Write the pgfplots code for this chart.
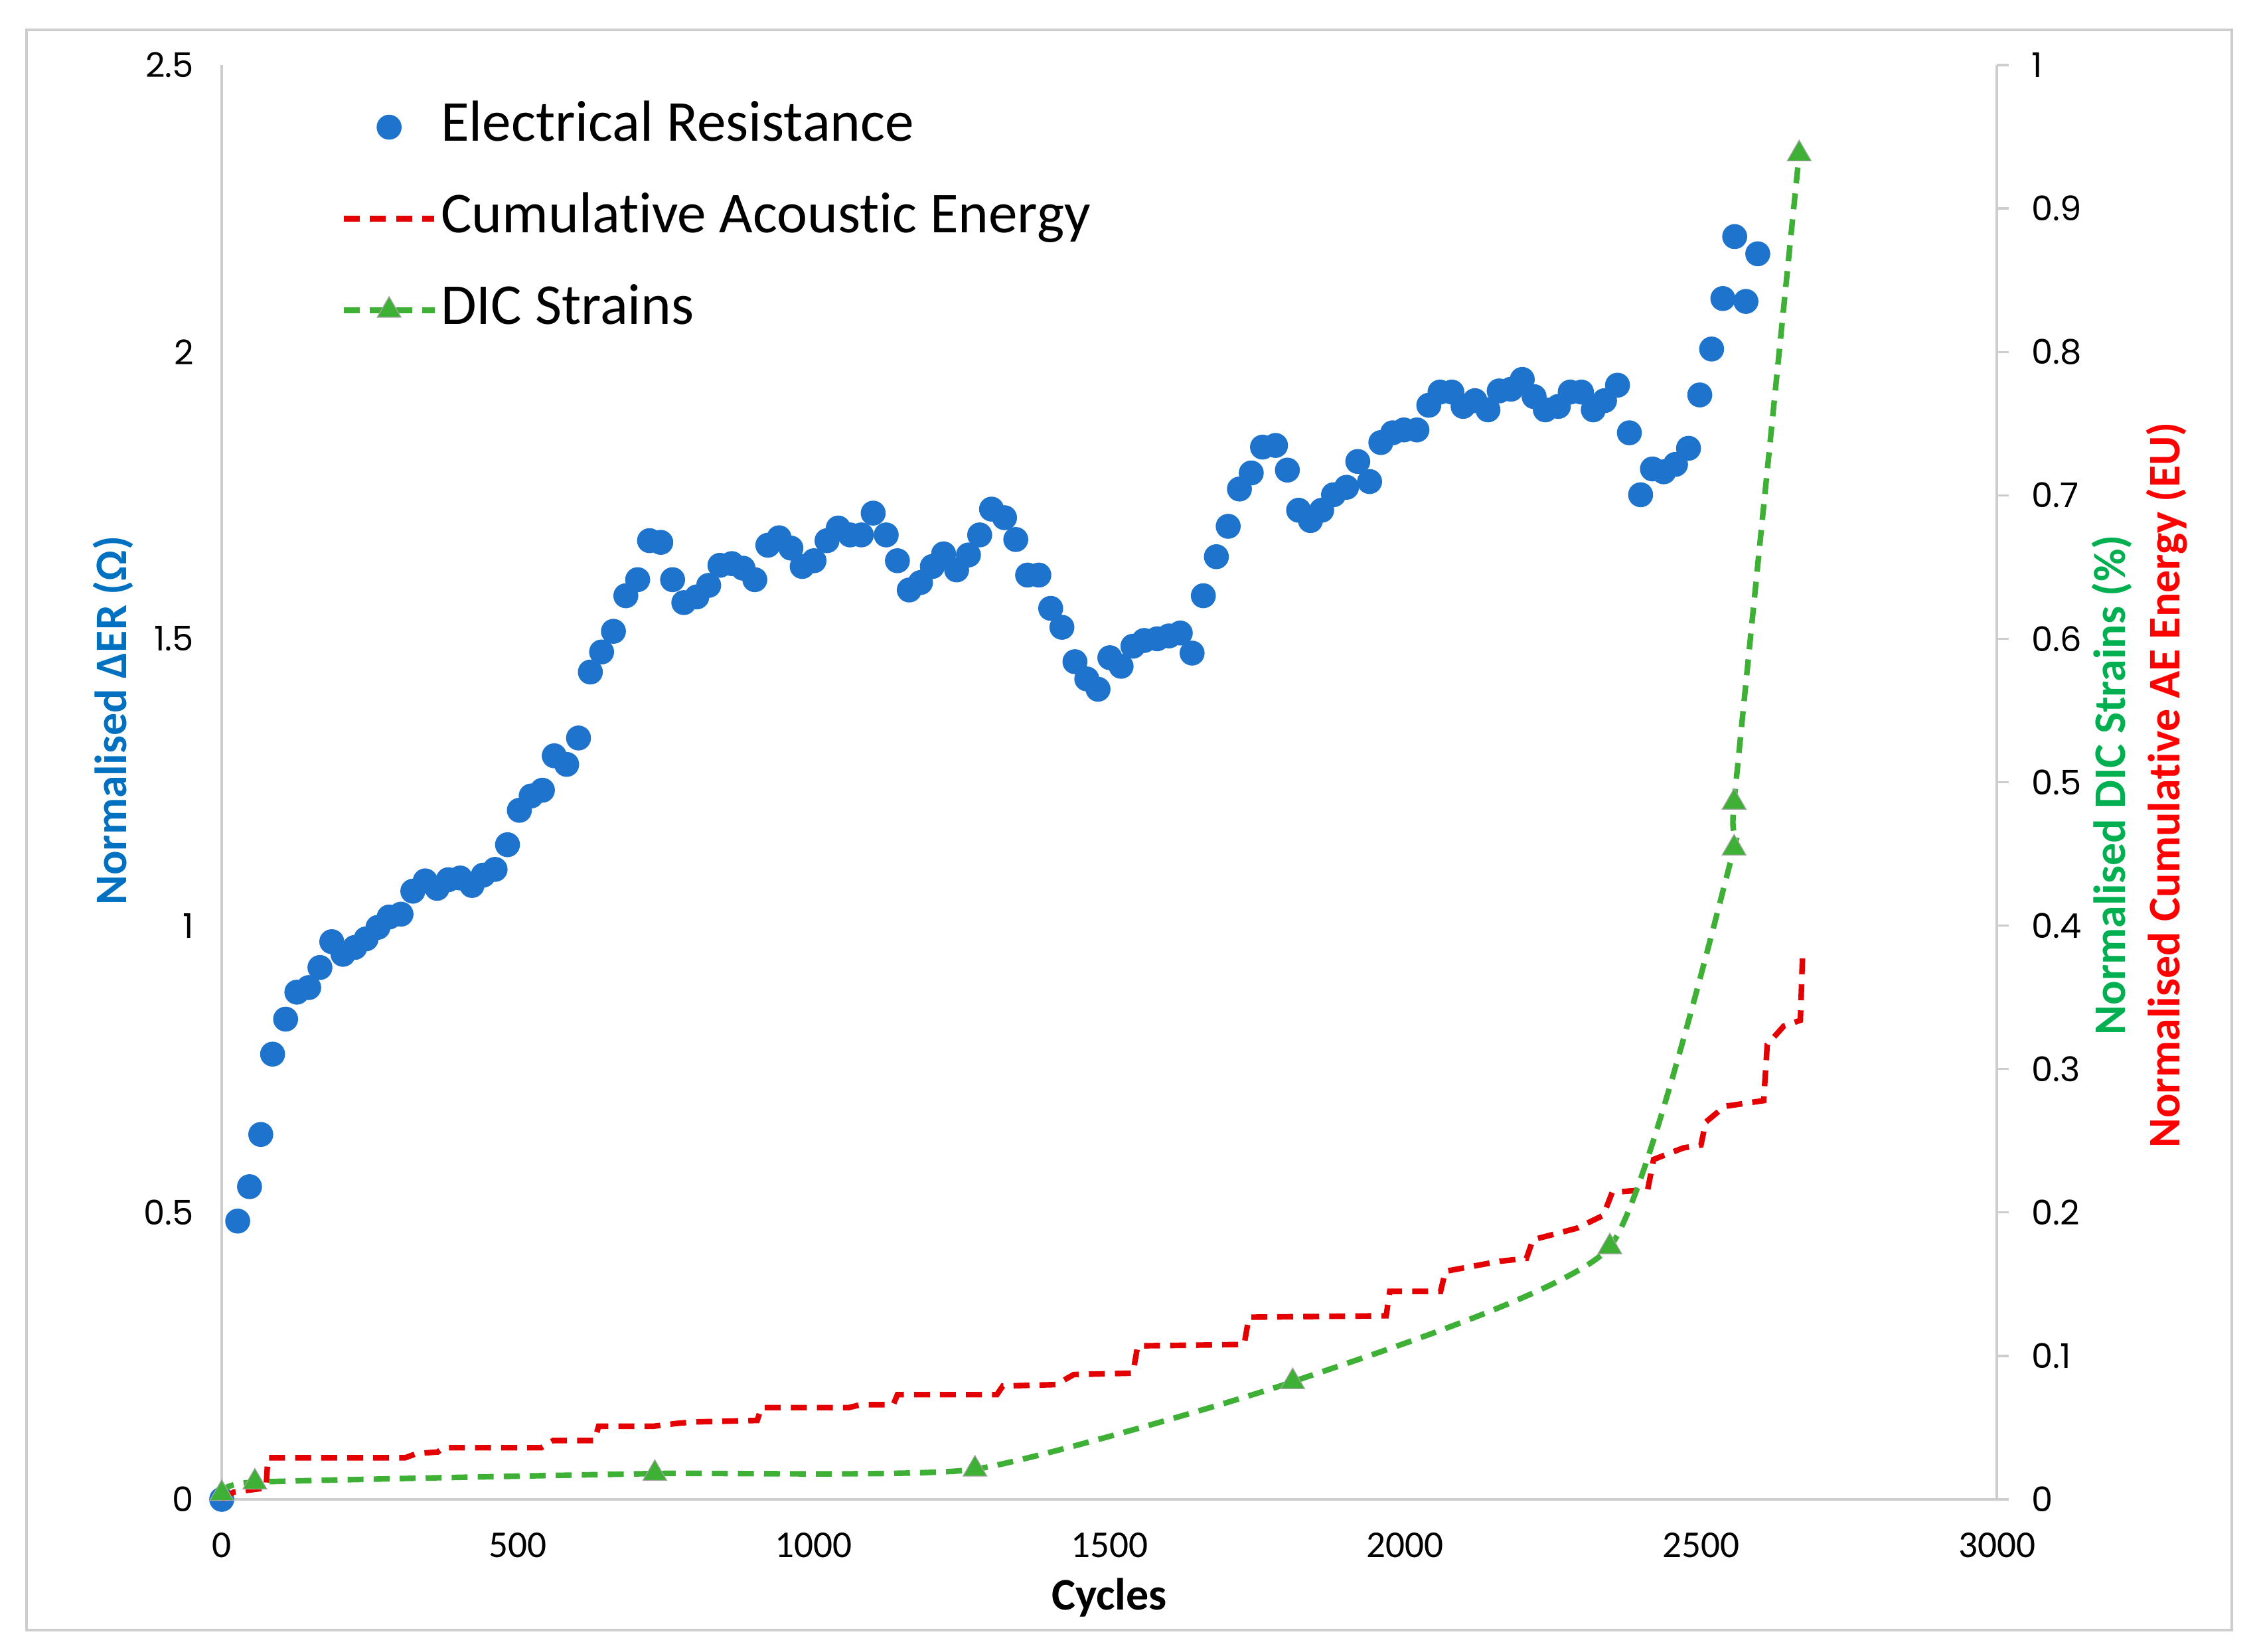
\documentclass[border=0pt]{standalone}
\usepackage{fontspec}
\setmainfont{Carlito}[Ligatures=NoCommon]
\newfontfamily\poppins{Poppins}
\usepackage{pgfplots}
\usepackage{pgfplotstable}
\pgfplotsset{compat=1.18}
\definecolor{erblue}{RGB}{30,115,204}
\definecolor{aered}{RGB}{228,0,0}
\definecolor{dicgreen}{RGB}{62,176,54}
\definecolor{lblblue}{RGB}{0,112,192}
\definecolor{lblgreen}{RGB}{0,176,80}
\definecolor{lblred}{RGB}{255,0,0}
\definecolor{axgray}{RGB}{205,205,205}

\pgfplotstableread{
x y
0 0
27 0.485
47 0.545
66 0.636
86 0.776
108 0.837
127 0.884
147 0.892
166 0.927
186 0.972
205 0.950
225 0.962
244 0.977
264 0.997
283 1.015
303 1.020
323 1.060
344 1.078
364 1.065
383 1.080
403 1.083
423 1.070
442 1.088
462 1.098
483 1.141
503 1.201
523 1.226
542 1.236
562 1.296
583 1.281
603 1.327
623 1.442
642 1.477
662 1.513
683 1.575
703 1.603
723 1.671
742 1.668
762 1.603
781 1.563
803 1.573
823 1.593
842 1.628
862 1.631
881 1.623
901 1.603
923 1.663
942 1.676
962 1.658
981 1.626
1001 1.636
1023 1.671
1042 1.693
1062 1.681
1081 1.681
1101 1.719
1123 1.681
1142 1.636
1162 1.585
1181 1.598
1201 1.626
1220 1.648
1242 1.620
1262 1.646
1281 1.681
1301 1.726
1323 1.711
1342 1.673
1362 1.611
1381 1.611
1401 1.553
1420 1.520
1442 1.460
1462 1.430
1481 1.412
1501 1.467
1520 1.452
1540 1.487
1559 1.497
1581 1.500
1601 1.505
1620 1.510
1640 1.475
1659 1.575
1681 1.643
1701 1.696
1720 1.761
1740 1.789
1759 1.834
1781 1.837
1801 1.794
1820 1.724
1840 1.706
1859 1.724
1879 1.751
1901 1.764
1920 1.809
1940 1.774
1959 1.842
1979 1.859
1998 1.864
2020 1.864
2040 1.907
2059 1.930
2079 1.930
2098 1.905
2118 1.915
2140 1.899
2159 1.932
2179 1.935
2198 1.952
2218 1.922
2237 1.899
2259 1.905
2279 1.930
2298 1.930
2318 1.899
2337 1.915
2359 1.942
2379 1.859
2398 1.751
2418 1.796
2437 1.791
2457 1.804
2479 1.832
2498 1.925
2518 2.005
2537 2.093
2557 2.201
2576 2.088
2596 2.171
}\ertable

\pgfplotstableread{
x y
0 0.000
20 0.005
75 0.008
78 0.029
310 0.029
330 0.032
365 0.033
375 0.036
540 0.036
560 0.041
630 0.041
637 0.051
730 0.051
770 0.053
800 0.054
905 0.055
912 0.064
1060 0.064
1080 0.066
1135 0.066
1142 0.073
1310 0.073
1320 0.079
1410 0.080
1440 0.087
1540 0.088
1548 0.107
1728 0.108
1736 0.127
1968 0.128
1974 0.145
2060 0.145
2068 0.159
2160 0.166
2205 0.168
2216 0.181
2290 0.189
2335 0.198
2350 0.214
2410 0.216
2420 0.237
2470 0.245
2500 0.247
2508 0.263
2540 0.274
2606 0.278
2612 0.317
2640 0.330
2668 0.334
2672 0.383
}\aetable

\pgfplotstableread{
x y
0 0.004
56 0.012
732 0.018
1273 0.021
1810 0.082
2346 0.176
2556 0.454
2556 0.486
2666 0.938
}\dictable

\begin{document}
\begin{tikzpicture}[x=1pt,y=1pt]
\useasboundingbox (-83.5,-57.25) rectangle (768,564.75);
\fill[white] (-83.5,-57.25) rectangle (768,564.75);
\draw[draw=axgray, line width=0.9pt] (-73.5,-49.25) rectangle (757,553.5);

\begin{axis}[
  scale only axis, width=668.5pt, height=540.25pt,
  xmin=0, xmax=3000, ymin=0, ymax=2.5,
  axis x line*=bottom, axis y line*=left,
  axis line style={draw=axgray, line width=0.8pt, -},
  xtick={0,500,1000,1500,2000,2500,3000},
  xticklabels={0,500,1000,1500,2000,2500,3000},
  ytick={0,0.5,1,1.5,2,2.5},
  yticklabels={0,0.5,1,1.5,2,2.5},
  major tick length=0pt,
  /pgf/number format/assume math mode=true,
  xticklabel style={font=\fontsize{14.3}{16}\selectfont, yshift=-9pt},
  yticklabel style={font=\poppins\fontsize{12.8}{14}\selectfont, xshift=-7pt},
  xlabel={Cycles},
  xlabel style={font=\fontsize{17}{20}\selectfont\bfseries, at={(axis description cs:0.5,-0.0685)}, anchor=center},
  ylabel={Normalised ΔER (Ω)},
  ylabel style={font=\fontsize{17}{20}\selectfont\bfseries, text=lblblue, at={(axis description cs:-0.061,0.543)}, anchor=center},
  clip=false,
]
\addplot[only marks, mark=*, mark size=4.5pt, color=erblue, mark options={draw=erblue, fill=erblue}] table[x=x,y=y] {\ertable};
\end{axis}

\begin{axis}[
  scale only axis, width=668.5pt, height=540.25pt,
  xmin=0, xmax=3000, ymin=0, ymax=1,
  axis x line=none, axis y line*=right,
  axis line style={draw=axgray, line width=0.8pt, -},
  ytick={0,0.1,0.2,0.3,0.4,0.5,0.6,0.7,0.8,0.9,1},
  yticklabels={0,0.1,0.2,0.3,0.4,0.5,0.6,0.7,0.8,0.9,1},
  tick align=outside, major tick length=4.5pt,
  tick style={draw=axgray, line width=0.8pt},
  /pgf/number format/assume math mode=true,
  yticklabel style={font=\poppins\fontsize{12.8}{14}\selectfont, anchor=west, xshift=5pt},
  clip=false,
  legend style={at={(rel axis cs:0.0670,0.976)}, anchor=north west, draw=none, fill=none,
    font=\fontsize{21.8}{26}\selectfont, inner sep=0pt, row sep=14pt, column sep=1.5pt,
    nodes={inner sep=0pt, text height=15.5pt, text depth=5pt}},
  legend cell align=left,
  legend image code/.code={\draw[mark repeat=2,mark phase=2,#1] plot coordinates {(0pt,0pt) (17pt,0pt) (34pt,0pt)};},
]
\addlegendimage{only marks, mark=*, mark size=4.5pt, color=erblue, mark options={draw=erblue, fill=erblue}}
\addlegendentry{Electrical Resistance}
\addplot[color=aered, line width=2.1pt, dash pattern=on 6pt off 3.8pt, no marks] table[x=x,y=y] {\aetable};
\addlegendentry{Cumulative Acoustic Energy}
\addplot[color=dicgreen, line width=2.1pt, dash pattern=on 6pt off 3.8pt, smooth, tension=0.3, mark=triangle*, mark size=5.2pt, mark options={solid, fill=dicgreen, draw=gray!70, line width=0.3pt}] table[x=x,y=y] {\dictable};
\addlegendentry{DIC Strains}
\node[rotate=90, anchor=center, font=\fontsize{17}{20}\selectfont\bfseries, text=lblgreen] at (axis description cs:1.0647,0.498) {Normalised DIC Strains (\%)};
\node[rotate=90, anchor=center, font=\fontsize{17}{20}\selectfont\bfseries, text=lblred] at (axis description cs:1.0957,0.498) {Normalised Cumulative AE Energy (EU)};
\end{axis}
\end{tikzpicture}
\end{document}
